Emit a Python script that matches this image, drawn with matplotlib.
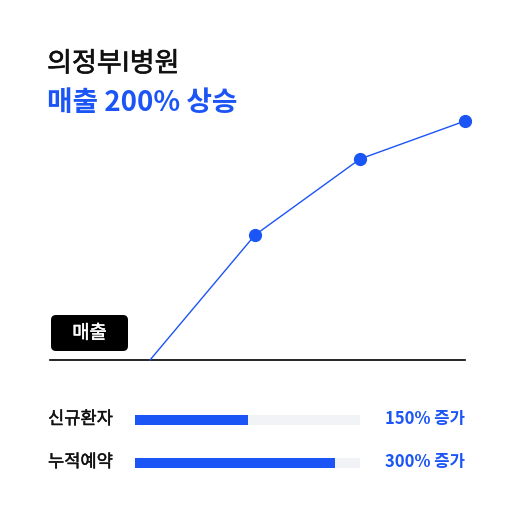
import matplotlib
matplotlib.use('Agg')
import matplotlib.pyplot as plt
import matplotlib.patheffects as pe
from matplotlib.patches import FancyBboxPatch, Rectangle

plt.rcParams['font.family'] = ['Noto Sans CJK KR', 'DejaVu Sans']

BLUE = '#1B55F6'
TRACK = '#F1F3F7'

title = '의정부I병원'
subtitle = '매출 200% 상승'
badge_label = '매출'

# line chart: 매출 (pixel-ish units above the baseline)
periods = [0, 1, 2, 3]
sales = [0, 125, 201, 239]

# progress bars
bar_labels = ['신규환자', '누적예약']
bar_fill = [0.50, 0.89]
bar_texts = ['150% 증가', '300% 증가']

W, H = 515, 520
fig = plt.figure(figsize=(W / 100, H / 100), dpi=100)
fig.patch.set_facecolor('white')


def fx(px):
    return px / W


def fy(py):
    return 1 - py / H


def medium(color, w=0.6):
    # regular weight + thin stroke, stands in for a medium cut
    return [pe.withStroke(linewidth=w, foreground=color)]


# line chart axes: baseline at y=360px, x from 50 to 465 px
ax = fig.add_axes([fx(50), fy(360), fx(465) - fx(50), (360 - 100) / H])
ax.set_xlim(-100 / 105, 3)
ax.set_ylim(0, 260)
ax.axis('off')
ax.axhline(0, color='black', lw=1.2, clip_on=False)
ax.plot(periods, sales, color=BLUE, lw=1, clip_on=False, zorder=3)
ax.plot(periods[1:], sales[1:], 'o', color=BLUE, ms=8.5, clip_on=False, zorder=4)

# overlay axes in pixel coords for text, badge and bars
ov = fig.add_axes([0, 0, 1, 1])
ov.set_xlim(0, W)
ov.set_ylim(H, 0)
ov.axis('off')

ov.text(47, 64, title, fontsize=19.5, color='#111111', va='center', ha='left',
        path_effects=medium('#111111', 0.45))
ov.text(47, 103, subtitle, fontsize=20, color=BLUE, va='center', ha='left', fontweight='bold')

ov.add_patch(FancyBboxPatch((51, 315), 77, 36, boxstyle='round,pad=0,rounding_size=5',
                            fc='black', ec='none'))
ov.text(89.5, 333, badge_label, fontsize=13.5, color='white', ha='center', va='center',
        path_effects=medium('white', 0.35))

track_x0, track_x1 = 135, 360
for i, (lab, frac, txt) in enumerate(zip(bar_labels, bar_fill, bar_texts)):
    yc = 420 + i * 43
    ov.text(48, yc - 1, lab, fontsize=12.7, color='#111111', ha='left', va='center',
            path_effects=medium('#111111', 0.3))
    ov.add_patch(Rectangle((track_x0, yc - 5), track_x1 - track_x0, 10, fc=TRACK, ec='none'))
    ov.add_patch(Rectangle((track_x0, yc - 5), (track_x1 - track_x0) * frac, 10, fc=BLUE, ec='none'))
    ov.text(465, yc - 1, txt, fontsize=12, color=BLUE, ha='right', va='center',
            fontweight='bold')

fig.savefig('out.png', dpi=100)
